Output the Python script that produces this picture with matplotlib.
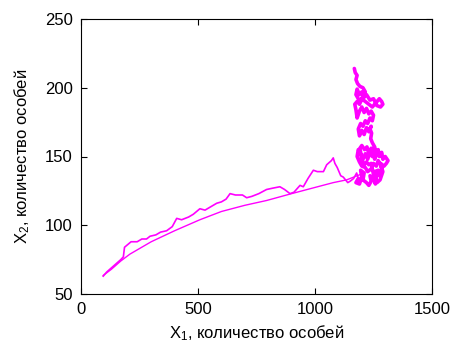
import matplotlib
matplotlib.use("Agg")
import matplotlib.pyplot as plt

# stochastic trajectory: approach, lower cluster, upper cluster
noisy_x = [95, 110, 130, 150, 170, 181, 186, 200, 214, 240, 260, 280, 295, 320, 340,
           366, 390, 409, 430, 460, 480, 508, 530, 550, 580, 600, 620, 637, 660, 690,
           708, 730, 760, 793, 820, 850, 870, 893, 910, 936, 950, 970, 993, 1010, 1036,
           1050, 1070, 1078, 1085, 1095, 1110, 1121, 1140, 1150, 1165, 1178,
           1185, 1175, 1190, 1200, 1195, 1210, 1205, 1220, 1230, 1240, 1235, 1250, 1258,
           1262, 1255, 1270, 1275, 1285, 1280, 1295, 1305, 1312, 1300, 1290, 1285, 1275,
           1270, 1260, 1250, 1245, 1235, 1225, 1215, 1205, 1195, 1185, 1180, 1190, 1200,
           1215, 1225, 1240, 1250, 1262, 1270, 1280, 1290, 1278, 1265, 1250, 1240, 1230,
           1220, 1210, 1200, 1192, 1200, 1212, 1222, 1230, 1240, 1248, 1255, 1262, 1255,
           1245, 1238, 1242, 1235,
           1240, 1230, 1220, 1210, 1200, 1190, 1185, 1195, 1205, 1215, 1225, 1235, 1245,
           1250, 1240, 1230, 1220, 1210, 1200, 1190, 1180, 1175, 1170, 1180, 1190, 1200,
           1215, 1230, 1245, 1260, 1275, 1285, 1290, 1280, 1265, 1250, 1235, 1220, 1210,
           1200, 1190, 1180, 1175, 1185, 1195, 1205, 1215, 1205, 1192, 1182, 1175, 1180,
           1172, 1168]
noisy_y = [63, 66, 69, 72, 75, 77, 84, 86, 88, 88, 90, 90, 92, 93, 95,
           96, 99, 105, 104, 106, 108, 112, 111, 113, 116, 117, 119, 123, 122, 122,
           120, 121, 123, 126, 127, 128, 126, 123, 124, 129, 128, 134, 140, 139, 139,
           144, 147, 149, 145, 142, 136, 135, 131, 132, 134, 138,
           134, 131, 130, 135, 140, 138, 133, 131, 129, 132, 136, 134, 130,
           135, 139, 140, 136, 141, 145, 143, 145, 147, 150, 148, 153, 150,
           155, 152, 156, 150, 153, 148, 152, 148, 152, 155, 150, 146, 143,
           142, 139, 141, 145, 143, 147, 144, 139, 133, 131, 137, 145, 144,
           146, 144, 148, 156, 158, 155, 157, 152, 156, 153, 148, 151, 157,
           160, 163, 167, 170,
           172, 168, 171, 166, 169, 165, 170, 174, 172, 176, 174, 178, 176,
           180, 183, 181, 185, 182, 186, 183, 178, 184, 188, 190, 188, 192,
           190, 188, 186, 189, 192, 190, 188, 186, 187, 192, 191, 195, 193,
           197, 195, 199, 195, 192, 190, 194, 197, 200, 201, 203, 206, 209,
           211, 214]
cluster_start = 56  # index where the walk reaches the equilibrium cloud

# deterministic trajectory
smooth_x = [95, 130, 170, 209, 300, 400, 508, 600, 700, 793, 900, 1000, 1078, 1135, 1180, 1210]
smooth_y = [63.5, 68, 74, 79, 88, 96, 104, 110, 114.5, 118, 123, 127.5, 131, 133, 136, 138]

plt.rcParams['font.family'] = ['Liberation Sans', 'DejaVu Sans']

fig = plt.figure(figsize=(4.51, 3.44), dpi=100)
ax = fig.add_axes([81 / 451, 50 / 344, 351 / 451, 275 / 344])

mag = '#ff00ff'
ax.plot(smooth_x, smooth_y, color=mag, linewidth=1.0)
ax.plot(noisy_x[:cluster_start + 1], noisy_y[:cluster_start + 1], color=mag, linewidth=1.2)
ax.plot(noisy_x[cluster_start:], noisy_y[cluster_start:], color=mag, linewidth=2.6,
        solid_joinstyle='round', solid_capstyle='round')

ax.set_xlim(0, 1500)
ax.set_ylim(50, 250)
ax.set_xticks([0, 500, 1000, 1500])
ax.set_yticks([50, 100, 150, 200, 250])
ax.tick_params(direction='in', top=True, right=True, labelsize=12, length=4, pad=6)
for s in ax.spines.values():
    s.set_linewidth(0.8)

ax.set_xlabel(r'$\mathregular{X_1}$, количество особей', fontsize=12, labelpad=4)
ax.set_ylabel(r'$\mathregular{X_2}$, количество особей', fontsize=12, labelpad=9)

fig.savefig('out.png', dpi=100)
